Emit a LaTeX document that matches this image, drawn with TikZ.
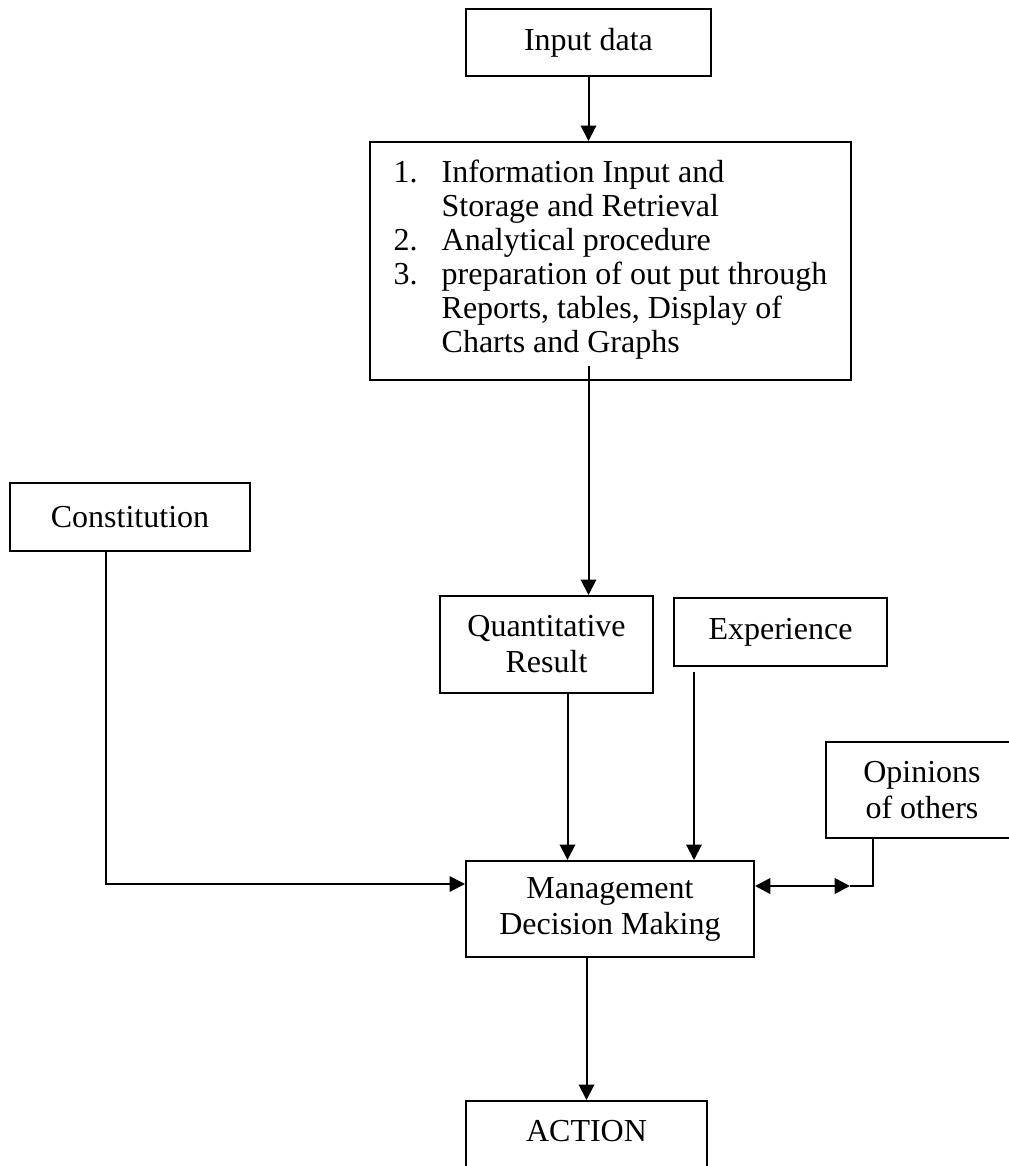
\documentclass[tikz,border=0pt]{standalone}
\usepackage{fontspec}
\setmainfont{Liberation Serif}
\usetikzlibrary{arrows.meta}
\def\u{0.375pt}
\begin{document}
\begin{tikzpicture}[x=0.375pt,y=-0.375pt,
  box/.style={draw, line width=0.75pt, inner sep=0pt, align=center,
    font=\fontsize{12}{13.5}\selectfont},
  link/.style={line width=0.75pt},
  arr/.style={link, -{Triangle[length=5.8pt,width=5.8pt]}},
  dblarr/.style={line width=1.1pt, {Triangle[length=5.8pt,width=5.8pt]}-{Triangle[length=5.8pt,width=5.8pt]}},
]
\useasboundingbox (0,0) rectangle (1009,1166);

% boxes
\node[box, minimum width=245*\u, minimum height=67*\u] (input) at (588.5,42.5) {Input data};
\node[box, minimum width=481*\u, minimum height=238*\u] (proc) at (610.5,261)
  {\fontsize{12}{12.75}\selectfont
   \begin{tabular}{@{}l@{}l@{}}
   \makebox[18pt][l]{1.} & Information Input and\\
                         & Storage and Retrieval\\
   \makebox[18pt][l]{2.} & Analytical procedure\\
   \makebox[18pt][l]{3.} & preparation of out put through\\
                         & Reports, tables, Display of\\
                         & Charts and Graphs
   \end{tabular}};
\node[box, minimum width=240*\u, minimum height=68*\u] (const) at (130,517) {Constitution};
\node[box, minimum width=213*\u, minimum height=97*\u] (quant) at (546.5,644.5) {Quantitative\\Result};
\node[box, minimum width=213*\u, minimum height=68*\u] (exper) at (780.5,632) {Experience};
\node[box, minimum width=192*\u, minimum height=96*\u] (opin) at (922,790) {Opinions\\of others};
\node[box, minimum width=288*\u, minimum height=96*\u] (mgmt) at (610,909) {Management\\Decision Making};
\node[box, minimum width=241*\u, minimum height=80*\u, text height=8pt, text depth=8pt] (action) at (586.5,1141) {ACTION};

% free end of the two-way link with the opinions box
\coordinate (opend) at (850,886);

% connectors
\draw[arr] (input.south) -- (input.south |- proc.north);
\draw[arr] ([yshift=15*\u]proc.south -| input.south) -- (input.south |- quant.north);
\draw[arr] ([xshift=21*\u]quant.south) -- ([xshift=21*\u]quant.south |- mgmt.north);
\draw[arr] ([shift={(21,5)}]exper.south west) -- ([xshift=21*\u]exper.south west |- mgmt.north);
\draw[arr] ([xshift=-24*\u]const.south) |- ([yshift=25*\u]mgmt.west);
\draw[dblarr] ([yshift=23*\u]mgmt.east) -- (opend);
\draw[link] ([xshift=48*\u]opin.south west) |- (opend);
\draw[arr] (action.north |- mgmt.south) -- (action.north);
\end{tikzpicture}
\end{document}
